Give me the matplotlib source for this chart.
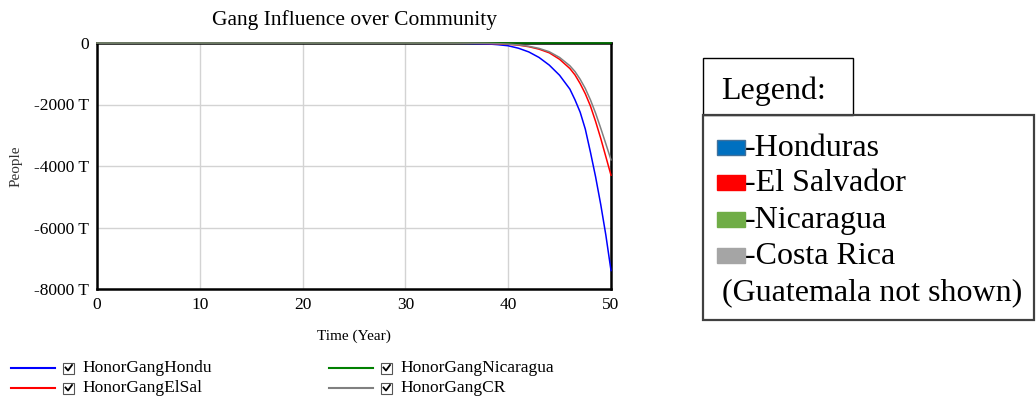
import numpy as np
import matplotlib.pyplot as plt
from matplotlib.patches import Rectangle
from matplotlib.ticker import FuncFormatter

# values in thousands of people ("T")
time = [0, 30, 34, 36, 38, 39, 40, 41, 42, 43, 44, 45, 46, 46.5, 47, 47.5, 48, 48.5, 49, 49.5, 50]
honor_hondu = [0, -1, -5, -12, -30, -55, -90, -170, -290, -470, -720, -1050, -1500, -1850, -2250,
               -2800, -3550, -4350, -5250, -6250, -7400]
honor_elsal = [0, 0, -2, -5, -14, -25, -40, -70, -120, -200, -320, -530, -830, -1040, -1320,
               -1650, -2050, -2550, -3100, -3700, -4300]
honor_nicaragua = [0] * len(time)
honor_cr = [0, 0, -2, -5, -12, -22, -36, -62, -105, -175, -285, -470, -740, -930, -1180,
            -1480, -1850, -2280, -2770, -3280, -3800]

series_names = ["HonorGangHondu", "HonorGangElSal", "HonorGangNicaragua", "HonorGangCR"]
series_colors = ["#0000ff", "#ff0000", "#008000", "#808080"]

countries = ["-Honduras", "-El Salvador", "-Nicaragua", "-Costa Rica"]
swatch_colors = ["#0070c0", "#ff0000", "#70ad47", "#a5a5a5"]
swatch_edges = ["#41719c", "#ff0000", "#70ad47", "#a5a5a5"]

serif = "Liberation Serif"

fig = plt.figure(figsize=(10.36, 4.0), dpi=100)
ax = fig.add_axes([97 / 1036, 1 - 289 / 400, (611 - 97) / 1036, (289 - 43) / 400])

for vals, color in zip([honor_hondu, honor_elsal, honor_nicaragua, honor_cr], series_colors):
    ax.plot(time, vals, color=color, linewidth=1.1, clip_on=False, zorder=3)

ax.set_xlim(0, 50)
ax.set_ylim(-8000, 0)
ax.set_xticks([0, 10, 20, 30, 40, 50])
ax.set_yticks([0, -2000, -4000, -6000, -8000])
ax.yaxis.set_major_formatter(FuncFormatter(lambda v, p: "0" if v == 0 else f"{v:.0f} T"))
ax.grid(True, color="#d3d3d3", linewidth=1.0)
ax.set_axisbelow(True)
for sp in ax.spines.values():
    sp.set_linewidth(1.8)
    sp.set_color("black")
ax.tick_params(length=0, pad=6, labelsize=12.5)
for lbl in ax.get_xticklabels() + ax.get_yticklabels():
    lbl.set_fontfamily(serif)

ax.set_title("Gang Influence over Community", fontfamily=serif, fontsize=15.5, pad=13)
ax.set_xlabel("Time (Year)", fontfamily=serif, fontsize=11, labelpad=12)
ax.set_ylabel("People", fontfamily=serif, fontsize=11, labelpad=8, color="#333333")

# overlay in pixel coordinates for the legends
ov = fig.add_axes([0, 0, 1, 1])
ov.set_xlim(0, 1036)
ov.set_ylim(400, 0)
ov.axis("off")

# bottom legend (line, checkbox, name), two columns
cols = [(11, 55), (329, 373)]
rows = [368, 388]
for i, (name, color) in enumerate(zip(series_names, series_colors)):
    x0, x1 = cols[i // 2]
    y = rows[i % 2]
    ov.plot([x0, x1], [y, y], color=color, linewidth=1.5)
    ov.add_patch(Rectangle((x1 + 8, y - 5.5), 11, 11, fill=False, edgecolor="#555555", linewidth=0.8))
    ov.plot([x1 + 10.5, x1 + 13, x1 + 17], [y - 0.5, y + 2.5, y - 3], color="black", linewidth=1.3)
    ov.text(x1 + 27, y, name, fontfamily=serif, fontsize=12.5, va="center", ha="left")

# right-hand legend box
ov.add_patch(Rectangle((703, 58), 150, 57, fill=False, edgecolor="black", linewidth=1.0))
ov.add_patch(Rectangle((703, 115), 331, 205, fill=False, edgecolor="#404040", linewidth=1.6))
ov.text(721, 99, "Legend:", fontfamily=serif, fontsize=23, va="baseline", ha="left")

baselines = [156, 191, 228, 264]
for name, fc, ec, yb in zip(countries, swatch_colors, swatch_edges, baselines):
    ov.add_patch(Rectangle((717, yb - 16), 28, 15, facecolor=fc, edgecolor=ec, linewidth=1.0))
    ov.text(745, yb, name, fontfamily=serif, fontsize=23, va="baseline", ha="left")
ov.text(722, 300, "(Guatemala not shown)", fontfamily=serif, fontsize=23, va="baseline", ha="left")

fig.savefig("out.png", dpi=100)
